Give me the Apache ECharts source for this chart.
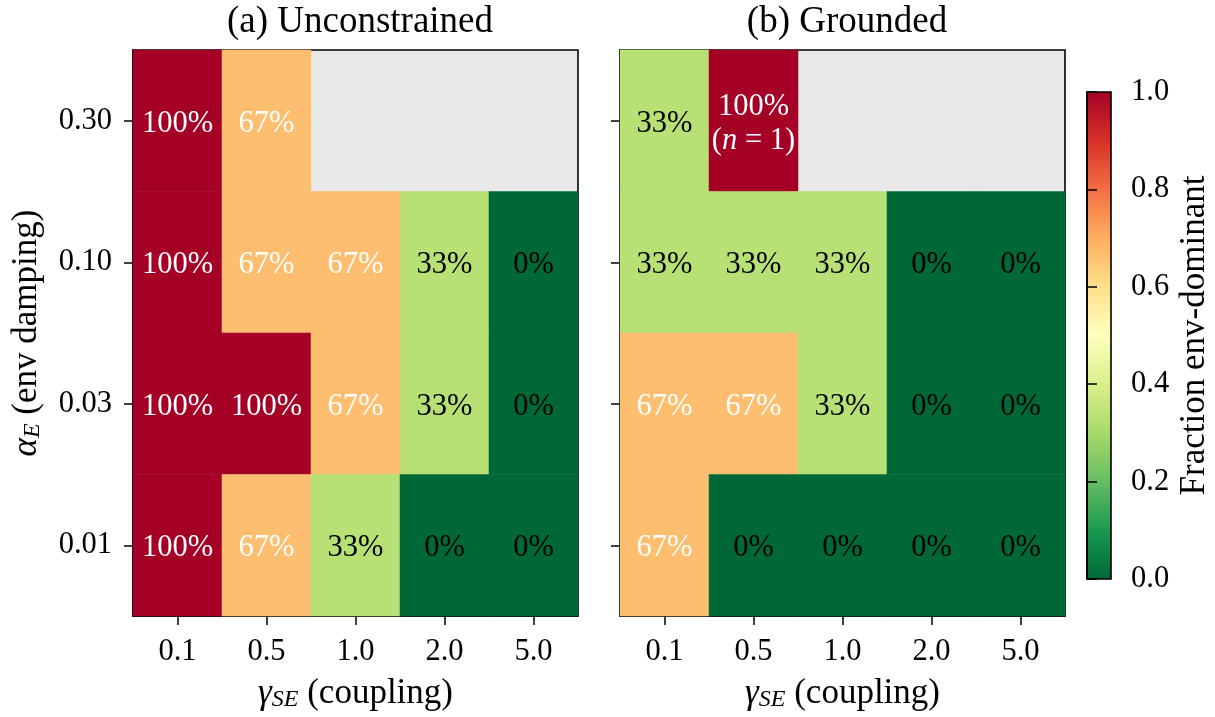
<!DOCTYPE html>
<html><head><meta charset="utf-8">
<script src="https://cdn.jsdelivr.net/npm/echarts@6/dist/echarts.min.js"></script>
<style>html,body{margin:0;padding:0;background:#fff}#c{width:1215px;height:717px}</style>
</head><body><div id="c"></div>
<script>
// ---- data ----
const gammaTicks = ['0.1', '0.5', '1.0', '2.0', '5.0'];          // x categories (γ_SE)
const alphaTicks = ['0.01', '0.03', '0.10', '0.30'];             // y categories bottom→top (α_E)
// rows listed top (α=0.30) → bottom (α=0.01); null = no runs
const fracUnconstrained = [
  [1.0, 0.667, null, null, null],
  [1.0, 0.667, 0.667, 0.333, 0.0],
  [1.0, 1.0, 0.667, 0.333, 0.0],
  [1.0, 0.667, 0.333, 0.0, 0.0]
];
const nUnconstrained = [
  [3, 3, 0, 0, 0],
  [3, 3, 3, 3, 3],
  [3, 3, 3, 3, 3],
  [3, 3, 3, 3, 3]
];
const fracGrounded = [
  [0.333, 1.0, null, null, null],
  [0.333, 0.333, 0.333, 0.0, 0.0],
  [0.667, 0.667, 0.333, 0.0, 0.0],
  [0.667, 0.0, 0.0, 0.0, 0.0]
];
const nGrounded = [
  [3, 1, 0, 0, 0],
  [3, 3, 3, 3, 3],
  [3, 3, 3, 3, 3],
  [3, 3, 3, 3, 3]
];
const panelTitles = ['(a) Unconstrained', '(b) Grounded'];
const cbarTicks = [0.0, 0.2, 0.4, 0.6, 0.8, 1.0];
const cmap = ['#006837','#1a9850','#66bd63','#a6d96a','#d9ef8b','#ffffbf','#fee08b','#fdae61','#f46d43','#d73027','#a50026'];

// ---- build ----
const FF = 'Liberation Serif';
const CELL_FS = 30.5, TICK_FS = 30.5, NAME_FS = 35, TITLE_FS = 37;
const chart = echarts.init(document.getElementById('c'), null, {renderer: 'canvas'});

function toData(frac, ns) {
  const out = [];
  const R = frac.length;
  frac.forEach((row, r) => row.forEach((v, c) => {
    if (v !== null) out.push({value: [c, R - 1 - r, v], n: ns[r][c]});
  }));
  return out;
}
function fmt(p) {
  const v = p.data.value[2];
  const s = v > 0.5 ? 'w' : 'k';
  let t = '{' + s + '|' + Math.round(v * 100) + '%}';
  if (p.data.n < 3) t += '\n{' + s + '|(}{' + s + 'i|n}{' + s + '| = ' + p.data.n + ')}';
  return t;
}
const rich = {
  w: {color: '#fff', fontSize: CELL_FS, fontFamily: FF, lineHeight: 34},
  k: {color: '#000', fontSize: CELL_FS, fontFamily: FF, lineHeight: 34},
  wi: {color: '#fff', fontSize: CELL_FS, fontFamily: FF, fontStyle: 'italic', lineHeight: 34},
  ki: {color: '#000', fontSize: CELL_FS, fontFamily: FF, fontStyle: 'italic', lineHeight: 34}
};

const grids = [
  {left: 133, top: 50, width: 445, height: 572},
  {left: 620, top: 50, width: 445, height: 572}
].map(g => Object.assign(g, {show: true, backgroundColor: '#e8e8e8', borderColor: '#000', borderWidth: 1.6, containLabel: false}));
const stops = cmap.map((c, i) => ({offset: i / (cmap.length - 1), color: c}));
grids.push({left: 1087, top: 92, width: 24, height: 487, show: true,
  backgroundColor: new echarts.graphic.LinearGradient(0, 1, 0, 0, stops),
  borderColor: '#000', borderWidth: 1.6});

const tickStyle = {show: true, length: 9, lineStyle: {color: '#000', width: 1.5}};
const axisLbl = {color: '#000', fontSize: TICK_FS, fontFamily: FF};
const nameRich = {
  i: {fontSize: NAME_FS, fontFamily: FF, fontStyle: 'italic', color: '#000'},
  sub: {fontSize: 24, fontFamily: FF, fontStyle: 'italic', color: '#000', padding: [13, 0, 0, 0]},
  t: {fontSize: NAME_FS, fontFamily: FF, color: '#000'}
};

const xAxes = [0, 1].map(i => ({
  type: 'category', gridIndex: i, data: gammaTicks,
  axisLine: {show: true, lineStyle: {color: '#000', width: 1.6}},
  axisTick: Object.assign({alignWithLabel: true}, tickStyle),
  axisLabel: Object.assign({margin: 20}, axisLbl),
  splitLine: {show: false},
  name: '{i|γ}{sub|SE}{t| (coupling)}', nameLocation: 'middle', nameGap: 59,
  nameTextStyle: {rich: nameRich}
}));
xAxes.push({type: 'value', gridIndex: 2, show: false, min: 0, max: 1});

const yAxes = [0, 1].map(i => ({
  type: 'category', gridIndex: i, data: alphaTicks,
  axisLine: {show: true, lineStyle: {color: '#000', width: 1.6}},
  axisTick: Object.assign({alignWithLabel: true}, tickStyle),
  axisLabel: Object.assign({margin: 21, show: i === 0, padding: [5, 0, 0, 0]}, axisLbl),
  splitLine: {show: false},
  name: i === 0 ? '{i|α}{sub|E}{t| (env damping)}' : '', nameLocation: 'middle', nameGap: 88, nameRotate: 90,
  nameTextStyle: {rich: nameRich}
}));
yAxes.push({
  type: 'value', gridIndex: 2, position: 'right', min: cbarTicks[0], max: cbarTicks[cbarTicks.length - 1], interval: 0.2,
  axisLine: {show: true, lineStyle: {color: '#000', width: 1.6}},
  axisTick: Object.assign({}, tickStyle, {length: 10}),
  axisLabel: Object.assign({margin: 20, padding: [4, 0, 0, 0], formatter: v => v.toFixed(1)}, axisLbl),
  splitLine: {show: false},
  name: 'Fraction env-dominant', nameLocation: 'middle', nameGap: 66, nameRotate: 90,
  nameTextStyle: {fontSize: NAME_FS, fontFamily: FF, color: '#000'}
});

const series = [fracUnconstrained, fracGrounded].map((frac, i) => ({
  type: 'heatmap', xAxisIndex: i, yAxisIndex: i,
  data: toData(frac, i === 0 ? nUnconstrained : nGrounded),
  label: {show: true, formatter: fmt, rich: rich, fontSize: CELL_FS, fontFamily: FF, offset: [0, 3]},
  itemStyle: {borderWidth: 0},
  emphasis: {disabled: true}
}));

chart.setOption({
  animation: false,
  backgroundColor: '#fff',
  textStyle: {fontFamily: FF},
  title: panelTitles.map((t, i) => ({
    text: t, left: i === 0 ? 355 : 842, top: -1, textAlign: 'center',
    textStyle: {fontSize: TITLE_FS, fontWeight: 'normal', fontFamily: FF, color: '#000'}
  })),
  visualMap: {type: 'continuous', show: false, min: 0, max: 1, seriesIndex: [0, 1], inRange: {color: cmap}},
  grid: grids,
  xAxis: xAxes,
  yAxis: yAxes,
  series: series
});
</script>
</body></html>
